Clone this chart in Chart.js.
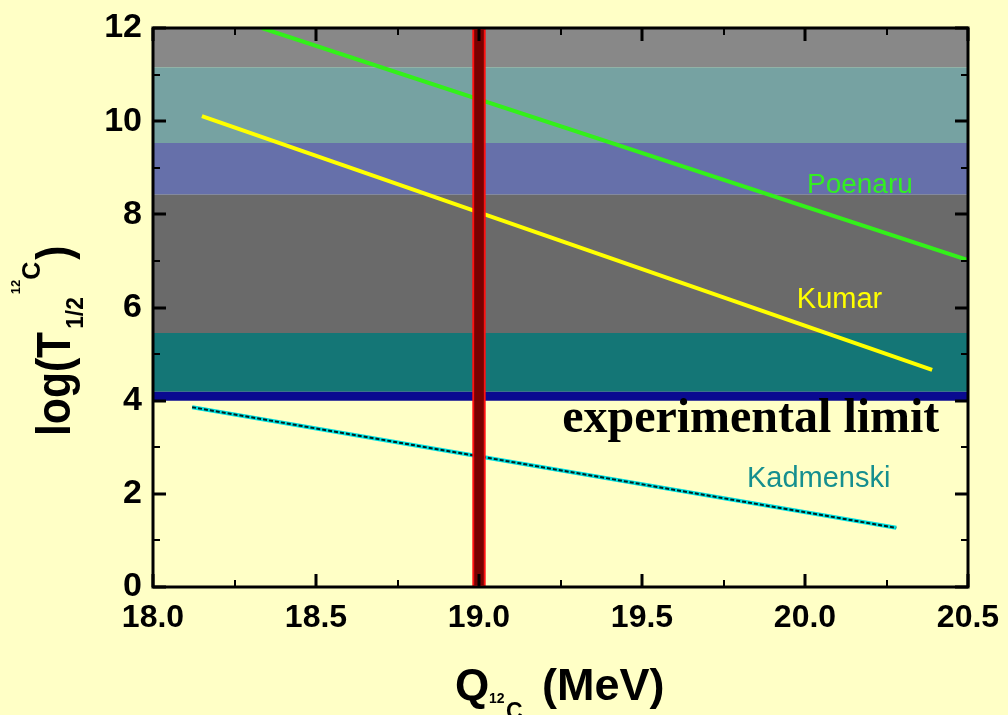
<!DOCTYPE html>
<html>
<head>
<meta charset="utf-8">
<script src="https://cdn.jsdelivr.net/npm/chart.js@4.4.1/dist/chart.umd.min.js"></script>
<style>
  html, body { margin: 0; padding: 0; background: #ffffc6; }
  #wrap { width: 1008px; height: 715px; }
</style>
</head>
<body>
<div id="wrap"><canvas id="chart" width="1008" height="715"></canvas></div>
<script>
// Q (MeV) vs log(T1/2) for 12C emission
const xTicks = [18.0, 18.5, 19.0, 19.5, 20.0, 20.5]
const yTicks = [0, 2, 4, 6, 8, 10, 12]

const poenaruQ = [18.334, 20.5]
const poenaruLog = [12.0, 7.02]
const kumarQ = [18.15, 20.39]
const kumarLog = [10.11, 4.66]
const kadmenskiQ = [18.12, 20.28]
const kadmenskiLog = [3.86, 1.27]

// measured Q value (vertical bar) and its height
const measuredQ = [19.0]
const measuredTop = [12]

// shaded "excluded" region above the experimental limit, split in colour bands
const bandEdges = [4.0, 4.19, 5.45, 8.42, 9.53, 11.16, 12.0]
const bandColors = ['#0a0a90', '#147676', '#6a6a6a', '#6670aa', '#76a2a2', '#888888']

const pts = (xs, ys) => xs.map((x, i) => ({ x, y: ys[i] }))
const xMin = xTicks[0]
const xMax = xTicks[xTicks.length - 1]

const bandSets = bandColors.map((col, i) => ({
  type: 'line',
  data: [{ x: xMin, y: bandEdges[i + 1] }, { x: xMax, y: bandEdges[i + 1] }],
  fill: { value: bandEdges[i] },
  backgroundColor: col,
  borderWidth: 0,
  pointRadius: 0,
  order: 4,
}))

const SANS = '"Liberation Sans", Arial, sans-serif'

// page background, axes box with inside ticks, annotations and titles
const decor = {
  id: 'decor',
  beforeDraw(chart) {
    const c = chart.ctx
    c.save()
    c.fillStyle = '#ffffc6'
    c.fillRect(0, 0, chart.width, chart.height)
    c.restore()
  },
  afterDatasetsDraw(chart) {
    const c = chart.ctx
    const x = chart.scales.x
    const y = chart.scales.y
    const put = (txt, qx, ly, font, color) => {
      c.font = font
      c.fillStyle = color
      c.textAlign = 'left'
      c.textBaseline = 'alphabetic'
      c.fillText(txt, x.getPixelForValue(qx), y.getPixelForValue(ly))
    }
    c.save()
    put('Poenaru', 20.006, 8.46, '28px ' + SANS, '#33ee22')
    put('Kumar', 19.975, 5.99, '29px ' + SANS, '#ffff00')
    put('Kadmenski', 19.822, 2.15, '29px ' + SANS, '#158f8f')
    put('experimental limit', 19.255, 3.33, 'bold 48px "Liberation Serif", "Times New Roman", serif', '#000000')
    c.restore()
  },
  afterDraw(chart) {
    const c = chart.ctx
    const a = chart.chartArea
    const x = chart.scales.x
    const y = chart.scales.y
    c.save()
    c.strokeStyle = '#000'
    c.lineCap = 'butt'

    const mid = arr => arr.slice(1).map((v, i) => (v + arr[i]) / 2)
    const tickX = (vals, len, w) => {
      c.lineWidth = w
      vals.forEach(v => {
        const px = Math.round(x.getPixelForValue(v))
        c.beginPath()
        c.moveTo(px, a.bottom); c.lineTo(px, a.bottom - len)
        c.moveTo(px, a.top); c.lineTo(px, a.top + len)
        c.stroke()
      })
    }
    const tickY = (vals, len, w) => {
      c.lineWidth = w
      vals.forEach(v => {
        const py = Math.round(y.getPixelForValue(v))
        c.beginPath()
        c.moveTo(a.left, py); c.lineTo(a.left + len, py)
        c.moveTo(a.right, py); c.lineTo(a.right - len, py)
        c.stroke()
      })
    }
    tickX(xTicks, 13, 3)
    tickX(mid(xTicks), 7, 2)
    tickY(yTicks, 13, 3)
    tickY(mid(yTicks), 7, 2)

    c.lineWidth = 3
    c.strokeRect(a.left, a.top, a.right - a.left, a.bottom - a.top)

    // x title: Q_{12C} (MeV)
    c.fillStyle = '#000'
    c.textAlign = 'left'
    c.textBaseline = 'alphabetic'
    c.font = 'bold 44px ' + SANS
    c.fillText('Q', 455, 700)
    c.font = 'bold 14px ' + SANS
    c.fillText('12', 489, 703)
    c.font = 'bold 23px ' + SANS
    c.fillText('C', 506, 719)
    c.font = 'bold 45px ' + SANS
    c.fillText('(MeV)', 542, 700)

    // y title: log(T_{1/2}^{12C}) rotated
    c.translate(70, 436)
    c.rotate(-Math.PI / 2)
    let u = 0
    const seg = (txt, font, v, sx) => {
      c.font = font
      c.save()
      c.translate(u, v)
      c.scale(sx, 1)
      c.fillText(txt, 0, 0)
      c.restore()
      u += c.measureText(txt).width * sx
    }
    seg('log(T', 'bold 49px ' + SANS, 0, 0.87)
    u += 3
    seg('1/2', 'bold 24px ' + SANS, 13, 0.95)
    u += 3
    seg('12', 'bold 13px ' + SANS, -50, 1)
    seg('C', 'bold 25px ' + SANS, -30, 1)
    u += 2
    seg(')', 'bold 49px ' + SANS, 0, 0.87)
    c.restore()
  },
}

new Chart(document.getElementById('chart'), {
  type: 'line',
  data: {
    datasets: [
      {
        type: 'bar',
        label: 'measured Q',
        data: pts(measuredQ, measuredTop),
        backgroundColor: '#7a0000',
        borderColor: '#ff1010',
        borderWidth: 2,
        borderSkipped: false,
        barThickness: 13,
        order: 0,
      },
      {
        label: 'Kadmenski dots',
        data: pts(kadmenskiQ, kadmenskiLog),
        borderColor: '#002020',
        borderWidth: 2,
        borderDash: [4, 2],
        pointRadius: 0,
        fill: false,
        order: 1,
      },
      {
        label: 'Kadmenski',
        data: pts(kadmenskiQ, kadmenskiLog),
        borderColor: '#00e0e0',
        borderWidth: 4,
        pointRadius: 0,
        fill: false,
        order: 2,
      },
      {
        label: 'Kumar',
        data: pts(kumarQ, kumarLog),
        borderColor: '#ffff00',
        borderWidth: 4,
        pointRadius: 0,
        fill: false,
        order: 2,
      },
      {
        label: 'Poenaru',
        data: pts(poenaruQ, poenaruLog),
        borderColor: '#33f01a',
        borderWidth: 4,
        pointRadius: 0,
        fill: false,
        order: 2,
      },
      ...bandSets,
    ],
  },
  options: {
    responsive: false,
    animation: false,
    events: [],
    layout: { padding: { top: 28, right: 40, left: 0, bottom: 0 } },
    plugins: { legend: { display: false }, tooltip: { enabled: false } },
    scales: {
      x: {
        type: 'linear',
        min: xMin,
        max: xMax,
        offset: false,
        grid: { display: false },
        border: { display: false },
        afterBuildTicks: s => { s.ticks = xTicks.map(v => ({ value: v })) },
        afterFit: s => { s.height = 128 },
        ticks: {
          color: '#000',
          padding: 4,
          maxRotation: 0,
          font: { family: SANS, size: 32, weight: 'bold' },
          callback: v => Number(v).toFixed(1),
        },
      },
      y: {
        min: yTicks[0],
        max: yTicks[yTicks.length - 1],
        grid: { display: false },
        border: { display: false },
        afterBuildTicks: s => { s.ticks = yTicks.map(v => ({ value: v })) },
        afterFit: s => { s.width = 153 },
        ticks: {
          color: '#000',
          padding: 3,
          font: { family: SANS, size: 34, weight: 'bold' },
        },
      },
    },
  },
  plugins: [decor],
})
</script>
</body>
</html>
